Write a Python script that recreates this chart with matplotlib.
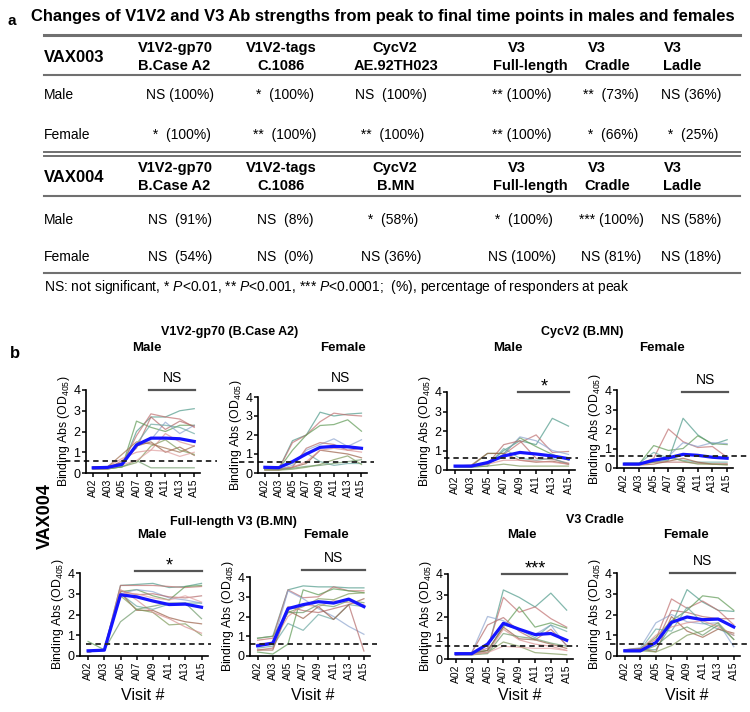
import numpy as np
import matplotlib.pyplot as plt
from matplotlib.lines import Line2D

plt.rcParams['font.family'] = ['Liberation Sans', 'DejaVu Sans']
plt.rcParams['mathtext.default'] = 'regular'
plt.rcParams['mathtext.fontset'] = 'custom'
plt.rcParams['mathtext.rm'] = 'Liberation Sans'
plt.rcParams['mathtext.it'] = 'Liberation Sans:italic'
plt.rcParams['mathtext.bf'] = 'Liberation Sans:bold'

# ---------------- table data (panel a) ----------------
headers_003 = [("V1V2-gp70", "B.Case A2"), ("V1V2-tags", "C.1086"), ("CycV2", "AE.92TH023"),
               ("V3", "Full-length"), ("V3", "Cradle"), ("V3", "Ladle")]
headers_004 = [("V1V2-gp70", "B.Case A2"), ("V1V2-tags", "C.1086"), ("CycV2", "B.MN"),
               ("V3", "Full-length"), ("V3", "Cradle"), ("V3", "Ladle")]
male_003 = ["NS (100%)", "*  (100%)", "NS  (100%)", "** (100%)", "**  (73%)", "NS (36%)"]
female_003 = [" *  (100%)", "**  (100%)", " **  (100%)", "** (100%)", " *  (66%)", " *  (25%)"]
male_004 = ["NS  (91%)", "NS  (8%)", " *  (58%)", " *  (100%)", "*** (100%)", "NS (58%)"]
female_004 = ["NS  (54%)", "NS  (0%)", "NS (36%)", "NS (100%)", "NS (81%)", "NS (18%)"]
footnote = (r"NS: not significant, * $\mathit{P}$<0.01, ** $\mathit{P}$<0.001, "
            r"*** $\mathit{P}$<0.0001;  (%), percentage of responders at peak")

# ---------------- line data (panel b) ----------------
visits = ["A02", "A03", "A05", "A07", "A09", "A11", "A13", "A15"]

gp70_male = [
    [0.20, 0.25, 0.30, 2.00, 2.70, 2.70, 3.00, 3.10],
    [0.30, 0.30, 0.40, 1.80, 2.85, 2.70, 2.60, 2.20],
    [0.20, 0.20, 0.30, 2.50, 2.20, 2.00, 2.30, 2.30],
    [0.25, 0.25, 0.35, 1.30, 1.60, 2.45, 1.90, 2.30],
    [0.20, 0.20, 0.60, 1.20, 2.70, 2.10, 2.50, 2.25],
    [0.25, 0.25, 0.40, 1.40, 2.35, 2.30, 2.20, 1.90],
    [0.30, 0.30, 0.50, 1.30, 1.50, 1.00, 1.25, 0.85],
    [0.20, 0.20, 0.30, 0.50, 1.30, 1.60, 1.10, 0.90],
    [0.25, 0.30, 0.70, 1.00, 1.10, 1.90, 1.50, 1.30],
    [0.20, 0.20, 0.30, 0.60, 0.25, 0.25, 0.25, 0.25],
    [0.20, 0.20, 0.40, 0.60, 1.10, 1.05, 0.80, 1.00],
    [0.30, 0.30, 0.90, 1.50, 1.40, 1.20, 1.00, 1.30],
]
gp70_male_mean = [0.25, 0.27, 0.42, 1.35, 1.68, 1.68, 1.65, 1.52]

gp70_female = [
    [0.20, 0.20, 1.70, 2.00, 3.20, 3.00, 3.10, 3.15],
    [0.20, 0.20, 1.60, 2.00, 2.70, 3.15, 3.05, 3.00],
    [0.20, 0.20, 1.20, 2.00, 2.50, 2.55, 2.80, 2.20],
    [0.20, 0.20, 0.40, 1.20, 1.50, 1.80, 1.40, 1.75],
    [0.15, 0.15, 0.30, 1.30, 1.60, 1.50, 1.20, 1.30],
    [0.30, 0.30, 0.50, 1.05, 0.60, 0.40, 0.50, 0.50],
    [0.20, 0.20, 0.30, 0.50, 1.20, 1.10, 1.00, 0.80],
    [0.15, 0.15, 0.20, 0.30, 0.45, 0.70, 0.90, 0.45],
    [0.20, 0.20, 0.30, 0.60, 1.20, 1.30, 1.20, 1.10],
    [0.20, 0.20, 0.25, 0.35, 0.40, 0.50, 0.60, 0.70],
]
gp70_female_mean = [0.30, 0.28, 0.60, 1.00, 1.35, 1.40, 1.38, 1.30]

cyc_male = [
    [0.20, 0.20, 0.30, 1.00, 1.50, 1.30, 2.65, 2.25],
    [0.20, 0.20, 0.30, 0.80, 1.40, 1.80, 0.90, 0.95],
    [0.20, 0.20, 0.85, 0.85, 1.65, 1.20, 0.80, 0.50],
    [0.20, 0.20, 0.40, 0.80, 1.70, 1.50, 1.00, 0.80],
    [0.20, 0.20, 0.30, 1.30, 1.50, 0.60, 0.55, 0.35],
    [0.15, 0.15, 0.20, 1.10, 0.60, 0.50, 0.60, 0.30],
    [0.20, 0.25, 0.85, 0.85, 0.50, 0.40, 0.45, 0.30],
    [0.15, 0.15, 0.20, 0.30, 0.20, 0.20, 0.20, 0.20],
    [0.20, 0.20, 0.30, 0.50, 0.50, 0.45, 0.40, 0.30],
]
cyc_male_mean = [0.20, 0.20, 0.38, 0.72, 0.90, 0.82, 0.72, 0.58]

cyc_female = [
    [0.25, 0.25, 0.30, 0.40, 2.55, 1.70, 1.20, 1.45],
    [0.20, 0.20, 0.50, 2.00, 1.35, 1.05, 1.10, 0.55],
    [0.20, 0.20, 1.15, 0.90, 1.00, 1.65, 1.25, 1.20],
    [0.20, 0.20, 0.40, 0.60, 1.30, 1.10, 1.30, 1.25],
    [0.20, 0.20, 0.30, 0.30, 0.30, 0.25, 0.20, 0.20],
    [0.25, 0.25, 0.80, 0.50, 0.40, 0.30, 0.30, 0.30],
    [0.15, 0.15, 0.20, 0.35, 0.50, 0.30, 0.20, 0.20],
    [0.20, 0.20, 0.30, 0.60, 0.35, 0.20, 0.20, 0.15],
]
cyc_female_mean = [0.20, 0.20, 0.40, 0.52, 0.70, 0.65, 0.55, 0.50]

fl_male = [
    [0.20, 0.30, 3.40, 3.45, 3.50, 3.30, 3.35, 3.50],
    [0.20, 0.30, 3.40, 3.40, 3.40, 3.35, 3.30, 3.35],
    [0.70, 0.30, 3.10, 3.20, 2.90, 2.70, 3.35, 3.40],
    [0.20, 0.30, 3.00, 3.20, 3.10, 2.80, 2.70, 2.55],
    [0.20, 0.30, 3.15, 2.95, 3.00, 2.85, 2.80, 2.90],
    [0.20, 0.30, 3.00, 2.40, 2.25, 2.50, 2.55, 2.55],
    [0.20, 0.30, 3.05, 2.20, 2.20, 1.85, 1.65, 1.55],
    [0.20, 0.30, 2.90, 2.25, 2.10, 1.50, 1.55, 1.00],
    [0.20, 0.30, 3.20, 2.70, 2.10, 1.80, 1.40, 1.10],
    [0.20, 0.30, 1.65, 2.25, 2.40, 2.55, 2.55, 1.80],
    [0.20, 0.30, 3.00, 3.00, 2.80, 2.70, 2.90, 2.60],
]
fl_male_mean = [0.25, 0.28, 2.95, 2.85, 2.65, 2.48, 2.50, 2.35]

fl_female = [
    [0.90, 1.00, 3.35, 3.55, 3.50, 3.50, 3.45, 3.45],
    [0.80, 0.90, 3.35, 2.95, 3.00, 3.50, 3.30, 3.30],
    [0.20, 0.10, 0.60, 3.35, 3.10, 3.40, 3.30, 3.20],
    [0.50, 0.60, 3.30, 2.90, 2.40, 2.00, 1.50, 1.10],
    [0.30, 0.40, 2.50, 2.30, 2.20, 2.40, 2.60, 0.25],
    [0.40, 0.50, 1.65, 1.30, 2.10, 1.85, 2.60, 2.50],
    [0.30, 0.30, 2.30, 1.90, 2.50, 1.85, 2.60, 2.90],
    [0.90, 1.00, 2.20, 2.50, 2.90, 2.85, 3.15, 3.20],
    [0.60, 0.70, 2.00, 2.60, 2.50, 2.80, 2.70, 2.60],
    [0.50, 0.70, 2.20, 2.20, 2.60, 2.50, 2.80, 2.70],
]
fl_female_mean = [0.52, 0.65, 2.40, 2.60, 2.75, 2.68, 2.88, 2.50]

cradle_male = [
    [0.20, 0.30, 0.40, 3.25, 2.90, 2.45, 3.10, 2.30],
    [0.20, 0.30, 0.50, 2.90, 2.20, 2.45, 1.90, 1.50],
    [0.20, 0.30, 0.40, 1.50, 2.45, 1.50, 1.70, 1.45],
    [0.30, 0.30, 2.00, 1.80, 1.40, 1.15, 1.60, 0.60],
    [0.30, 0.30, 1.60, 1.95, 1.30, 0.90, 1.40, 0.65],
    [0.20, 0.25, 0.30, 1.60, 1.40, 1.00, 1.60, 1.30],
    [0.20, 0.25, 0.40, 1.50, 0.95, 0.90, 0.70, 0.50],
    [0.20, 0.20, 0.30, 0.80, 0.60, 0.30, 0.25, 0.20],
    [0.20, 0.25, 0.30, 1.40, 0.90, 0.70, 0.60, 0.40],
    [0.20, 0.20, 0.25, 1.20, 1.05, 0.95, 0.75, 0.60],
    [0.20, 0.20, 0.30, 0.60, 0.55, 0.50, 0.50, 0.40],
]
cradle_male_mean = [0.25, 0.25, 0.70, 1.68, 1.40, 1.15, 1.20, 0.88]

cradle_female = [
    [0.30, 0.30, 0.30, 1.50, 3.20, 2.60, 2.20, 2.15],
    [0.30, 0.35, 0.80, 2.75, 2.30, 2.65, 2.20, 1.50],
    [0.30, 0.35, 0.90, 1.70, 2.20, 2.90, 2.80, 2.20],
    [0.30, 0.40, 1.60, 2.00, 1.65, 1.55, 1.60, 0.45],
    [0.30, 0.30, 0.60, 2.20, 2.10, 1.90, 1.80, 1.80],
    [0.30, 0.30, 1.30, 1.20, 2.35, 1.60, 1.30, 1.00],
    [0.30, 0.35, 0.20, 1.90, 1.20, 0.90, 1.30, 1.10],
    [0.25, 0.25, 0.20, 0.50, 1.00, 1.20, 1.60, 0.80],
    [0.30, 0.30, 1.00, 1.40, 1.60, 1.70, 1.40, 1.00],
    [0.20, 0.20, 0.50, 1.10, 1.40, 1.00, 1.50, 0.80],
]
cradle_female_mean = [0.25, 0.25, 0.65, 1.62, 1.88, 1.75, 1.78, 1.40]

cutoff = 0.6
sig_labels = ["NS", "NS", "*", "NS", "*", "NS", "***", "NS"]

# ---------------- figure ----------------
W, H = 750, 712
fig = plt.figure(figsize=(7.5, 7.12), dpi=100)


def fx(x):
    return x / W


def fy(y):
    return 1 - y / H


def hline(y, x0=44, x1=740, lw=1.5, color='#707070'):
    fig.add_artist(Line2D([fx(x0), fx(x1)], [fy(y), fy(y)], color=color, lw=lw))


# panel a
fig.text(fx(8), fy(21), "a", fontsize=11, fontweight='bold', va='center')
fig.text(fx(31), fy(17), "Changes of V1V2 and V3 Ab strengths from peak to final time points in males and females",
         fontsize=11.9, fontweight='bold', va='center')

head1_x = [175, 281, 395, 517, 597, 673]
head2_x = [174, 281, 396, 530, 607, 682]
val_x = [180, 285, 391, 522, 611, 691]


def table_block(name, headers, male, female, y_head, y_male, y_female):
    fig.text(fx(44), fy(y_head), name, fontsize=12, fontweight='bold', va='center')
    for (h1, h2), x1, x2 in zip(headers, head1_x, head2_x):
        fig.text(fx(x1), fy(y_head - 9), h1, fontsize=10.5, fontweight='bold', ha='center', va='center')
        fig.text(fx(x2), fy(y_head + 9), h2, fontsize=10.5, fontweight='bold', ha='center', va='center')
    fig.text(fx(44), fy(y_male), "Male", fontsize=10, va='center')
    fig.text(fx(44), fy(y_female), "Female", fontsize=10, va='center')
    for s, x in zip(male, val_x):
        fig.text(fx(x), fy(y_male), s, fontsize=10, ha='center', va='center')
    for s, x in zip(female, val_x):
        fig.text(fx(x), fy(y_female), s, fontsize=10, ha='center', va='center')


hline(35, lw=2.2)
table_block("VAX003", headers_003, male_003, female_003, 57, 95, 135)
hline(75)
hline(151.5, lw=1.4)
hline(155.5, lw=1.4)
table_block("VAX004", headers_004, male_004, female_004, 177, 220, 257)
hline(196)
hline(273)
fig.text(fx(44), fy(287), footnote, fontsize=10, va='center')

# panel b
fig.text(fx(10), fy(353), "b", fontsize=12, fontweight='bold', va='center')
fig.text(fx(45), fy(516), "VAX004", fontsize=13, fontweight='bold', rotation=90, ha='center', va='center')

thin_colors = ['#4f9a8a', '#c07070', '#5f9a55', '#8ea5cf', '#b46a6a', '#6aa7a0',
               '#9a6048', '#7f9a5a', '#d99090', '#6f9a6a', '#e0a0a0', '#a07050']

panels = [
    # rect in px (left, right, top, bottom), curves, mean, bar start, bar y, dash extent
    dict(px=(86, 200, 390, 473), curves=gp70_male, mean=gp70_male_mean, start=4, bar_y=4.0, dash=(-0.18, 1.15)),
    dict(px=(258, 367, 397, 473), curves=gp70_female, mean=gp70_female_mean, start=4, bar_y=4.37, dash=(-0.17, 1.06)),
    dict(px=(447, 575, 392, 470), curves=cyc_male, mean=cyc_male_mean, start=4, bar_y=4.0, dash=(-0.02, 1.02)),
    dict(px=(617, 733, 390, 468), curves=cyc_female, mean=cyc_female_mean, start=4, bar_y=3.9, dash=(-0.15, 1.12)),
    dict(px=(80, 208, 573, 656), curves=fl_male, mean=fl_male_mean, start=3, bar_y=4.1, dash=(0.05, 1.02)),
    dict(px=(250, 370, 577, 656), curves=fl_female, mean=fl_female_mean, start=3, bar_y=4.35, dash=(0.0, 1.06)),
    dict(px=(448, 573, 574, 659), curves=cradle_male, mean=cradle_male_mean, start=3, bar_y=4.0, dash=(-0.18, 1.04)),
    dict(px=(617, 740, 573, 656), curves=cradle_female, mean=cradle_female_mean, start=3, bar_y=4.0, dash=(-0.06, 1.06)),
]

x = np.arange(len(visits))
for i, p in enumerate(panels):
    l, r, t, b = p['px']
    ax = fig.add_axes([fx(l), fy(b), (r - l) / W, (b - t) / H])
    for j, c in enumerate(p['curves']):
        ax.plot(x, c, color=thin_colors[j % len(thin_colors)], lw=0.9, alpha=0.7)
    ax.plot(x, p['mean'], color='#1515ff', lw=2.3)
    ax.axhline(cutoff, xmin=p['dash'][0], xmax=p['dash'][1], color='#222222', lw=1.3,
               ls=(0, (3, 2.2)), clip_on=False)
    ax.set_xlim(-0.5, 7.4)
    ax.set_ylim(0, 4)
    ax.set_yticks([0, 1, 2, 3, 4])
    ax.set_xticks(x)
    ax.set_xticklabels(visits, rotation=90, fontsize=7.5)
    ax.tick_params(axis='y', labelsize=9, length=3, width=1.1, pad=1)
    ax.tick_params(axis='x', length=3, width=1.1, pad=1)
    for s in ['top', 'right']:
        ax.spines[s].set_visible(False)
    for s in ['left', 'bottom']:
        ax.spines[s].set_linewidth(1.2)
    ax.set_ylabel('Binding Abs (OD$_{405}$)', fontsize=8.8, labelpad=1)
    # significance bar
    ax.plot([p['start'] - 0.1, 7.05], [p['bar_y'], p['bar_y']], color='#555555', lw=1.6, clip_on=False)
    fs = 10 if sig_labels[i] == "NS" else 13
    ax.text((p['start'] + 7) / 2, p['bar_y'] + 0.25, sig_labels[i], fontsize=fs,
            ha='center', va='bottom' if sig_labels[i] == "NS" else 'center', clip_on=False)

titles = [("V1V2-gp70 (B.Case A2)", 230, 332), ("CycV2 (B.MN)", 582, 332),
          ("Full-length V3 (B.MN)", 233, 522), ("V3 Cradle", 595, 520)]
for s, tx, ty in titles:
    fig.text(fx(tx), fy(ty), s, fontsize=9, fontweight='bold', ha='center', va='center')

sub_pos = [(147, 348, "Male"), (343, 348, "Female"), (508, 348, "Male"), (662, 348, "Female"),
           (152, 535, "Male"), (326, 535, "Female"), (522, 535, "Male"), (686, 535, "Female")]
for tx, ty, s in sub_pos:
    fig.text(fx(tx), fy(ty), s, fontsize=9.5, fontweight='bold', ha='center', va='center')

for tx in [143, 313, 520, 687]:
    fig.text(fx(tx), fy(695), "Visit #", fontsize=11.5, ha='center', va='center')

fig.savefig('out.png', dpi=100)
